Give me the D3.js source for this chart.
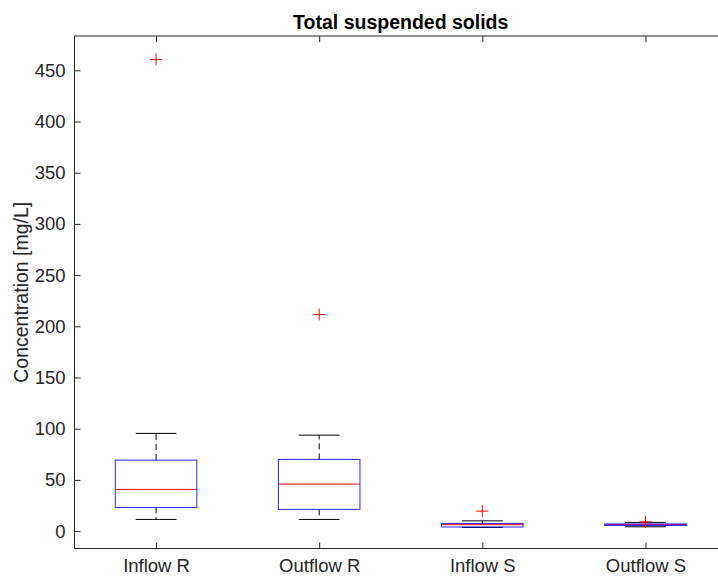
<!DOCTYPE html>
<html>
<head>
<meta charset="utf-8">
<script src="https://cdn.jsdelivr.net/npm/d3@7"></script>
<style>
  html, body { margin: 0; padding: 0; background: #fff; }
  svg { display: block; }
  text { font-family: "Liberation Sans", Arial, Helvetica, sans-serif; }
</style>
</head>
<body>
<svg id="chart" width="718" height="579"></svg>
<script>
// ---- data ----
const categories = ["Inflow R", "Outflow R", "Inflow S", "Outflow S"];
const q1 =        [23.1, 21.2, 4.0, 5.5];
const median =    [40.7, 45.9, 6.3, 6.3];
const q3 =        [69.3, 70.0, 7.5, 7.0];
const whiskLow =  [11.4, 11.4, 3.6, 4.2];
const whiskHigh = [95.4, 93.7, 10.0, 8.5];
const outliers =  [[460.5], [211.5], [19.5], [9.0]];
const yTicks = [0, 50, 100, 150, 200, 250, 300, 350, 400, 450];
const yDomain = [-17, 483.5];
const title = "Total suspended solids";
const yLabel = "Concentration [mg/L]";

// ---- layout ----
const svg = d3.select("#chart");
const mLeft = 74.5, mRight = 727, mTop = 36, mBottom = 548.5;
const axisColor = "#262626";
const tickFont = "18.5px";

const x = d3.scaleLinear().domain([0.5, categories.length + 0.5]).range([mLeft, mRight]);
const y = d3.scaleLinear().domain(yDomain).range([mBottom, mTop]);
const step = x(2) - x(1);
const boxHalf = step * 0.25;
const capHalf = step * 0.125;

const g = svg.append("g");

// boxes
categories.forEach((c, i) => {
  const cx = x(i + 1);
  const bg = g.append("g");
  // whiskers (dashed)
  bg.append("line").attr("x1", cx).attr("x2", cx)
    .attr("y1", y(q3[i])).attr("y2", y(whiskHigh[i]))
    .attr("stroke", "#000").attr("stroke-width", 1).attr("stroke-dasharray", "6,4");
  bg.append("line").attr("x1", cx).attr("x2", cx)
    .attr("y1", y(q1[i])).attr("y2", y(whiskLow[i]))
    .attr("stroke", "#000").attr("stroke-width", 1).attr("stroke-dasharray", "6,4");
  // caps
  [whiskHigh[i], whiskLow[i]].forEach(v => {
    bg.append("line").attr("x1", cx - capHalf).attr("x2", cx + capHalf)
      .attr("y1", y(v)).attr("y2", y(v))
      .attr("stroke", "#000").attr("stroke-width", 1);
  });
  // median
  bg.append("line").attr("x1", cx - boxHalf).attr("x2", cx + boxHalf)
    .attr("y1", y(median[i])).attr("y2", y(median[i]))
    .attr("stroke", "#ff0000").attr("stroke-width", 1);
  // box
  bg.append("rect").attr("x", cx - boxHalf).attr("width", 2 * boxHalf)
    .attr("y", y(q3[i])).attr("height", Math.max(0.5, y(q1[i]) - y(q3[i])))
    .attr("fill", "none").attr("stroke", "#0000ff").attr("stroke-width", 1)
    .attr("stroke-opacity", 0.85);
  // outliers
  outliers[i].forEach(v => {
    const oy = y(v), s = 6;
    bg.append("path")
      .attr("d", `M${cx - s},${oy}H${cx + s}M${cx},${oy - s}V${oy + s}`)
      .attr("stroke", "#ff0000").attr("stroke-width", 1).attr("fill", "none");
  });
});

// axes
const yAxis = d3.axisLeft(y).tickValues(yTicks).tickSizeInner(-6).tickSizeOuter(0).tickPadding(9);
const yg = svg.append("g").attr("transform", `translate(${mLeft},0)`).call(yAxis);
yg.select(".domain").remove();
yg.selectAll(".tick line").attr("stroke", axisColor);
yg.selectAll(".tick text").attr("fill", axisColor).style("font-size", tickFont);

const xAxis = d3.axisBottom(x).tickValues(categories.map((c, i) => i + 1))
  .tickFormat((d) => categories[d - 1]).tickSizeInner(-6).tickSizeOuter(0).tickPadding(10);
const xg = svg.append("g").attr("transform", `translate(0,${mBottom})`).call(xAxis);
xg.select(".domain").remove();
xg.selectAll(".tick line").attr("stroke", axisColor);
xg.selectAll(".tick text").attr("fill", axisColor).style("font-size", tickFont);

// top ticks
const xTop = d3.axisTop(x).tickValues(categories.map((c, i) => i + 1))
  .tickFormat("").tickSizeInner(-6).tickSizeOuter(0);
const xtg = svg.append("g").attr("transform", `translate(0,${mTop})`).call(xTop);
xtg.select(".domain").remove();
xtg.selectAll(".tick line").attr("stroke", axisColor);

// frame
svg.append("rect").attr("x", mLeft).attr("y", mTop)
  .attr("width", mRight - mLeft).attr("height", mBottom - mTop)
  .attr("fill", "none").attr("stroke", axisColor).attr("stroke-width", 1);

// title
svg.append("text").attr("x", (mLeft + mRight) / 2).attr("y", 29)
  .attr("text-anchor", "middle").attr("fill", "#000")
  .style("font-size", "19.5px").style("font-weight", "bold").text(title);

// y label
svg.append("text")
  .attr("transform", `translate(28,${(mTop + mBottom) / 2}) rotate(-90)`)
  .attr("text-anchor", "middle").attr("fill", axisColor)
  .style("font-size", "19.5px").text(yLabel);
</script>
</body>
</html>
